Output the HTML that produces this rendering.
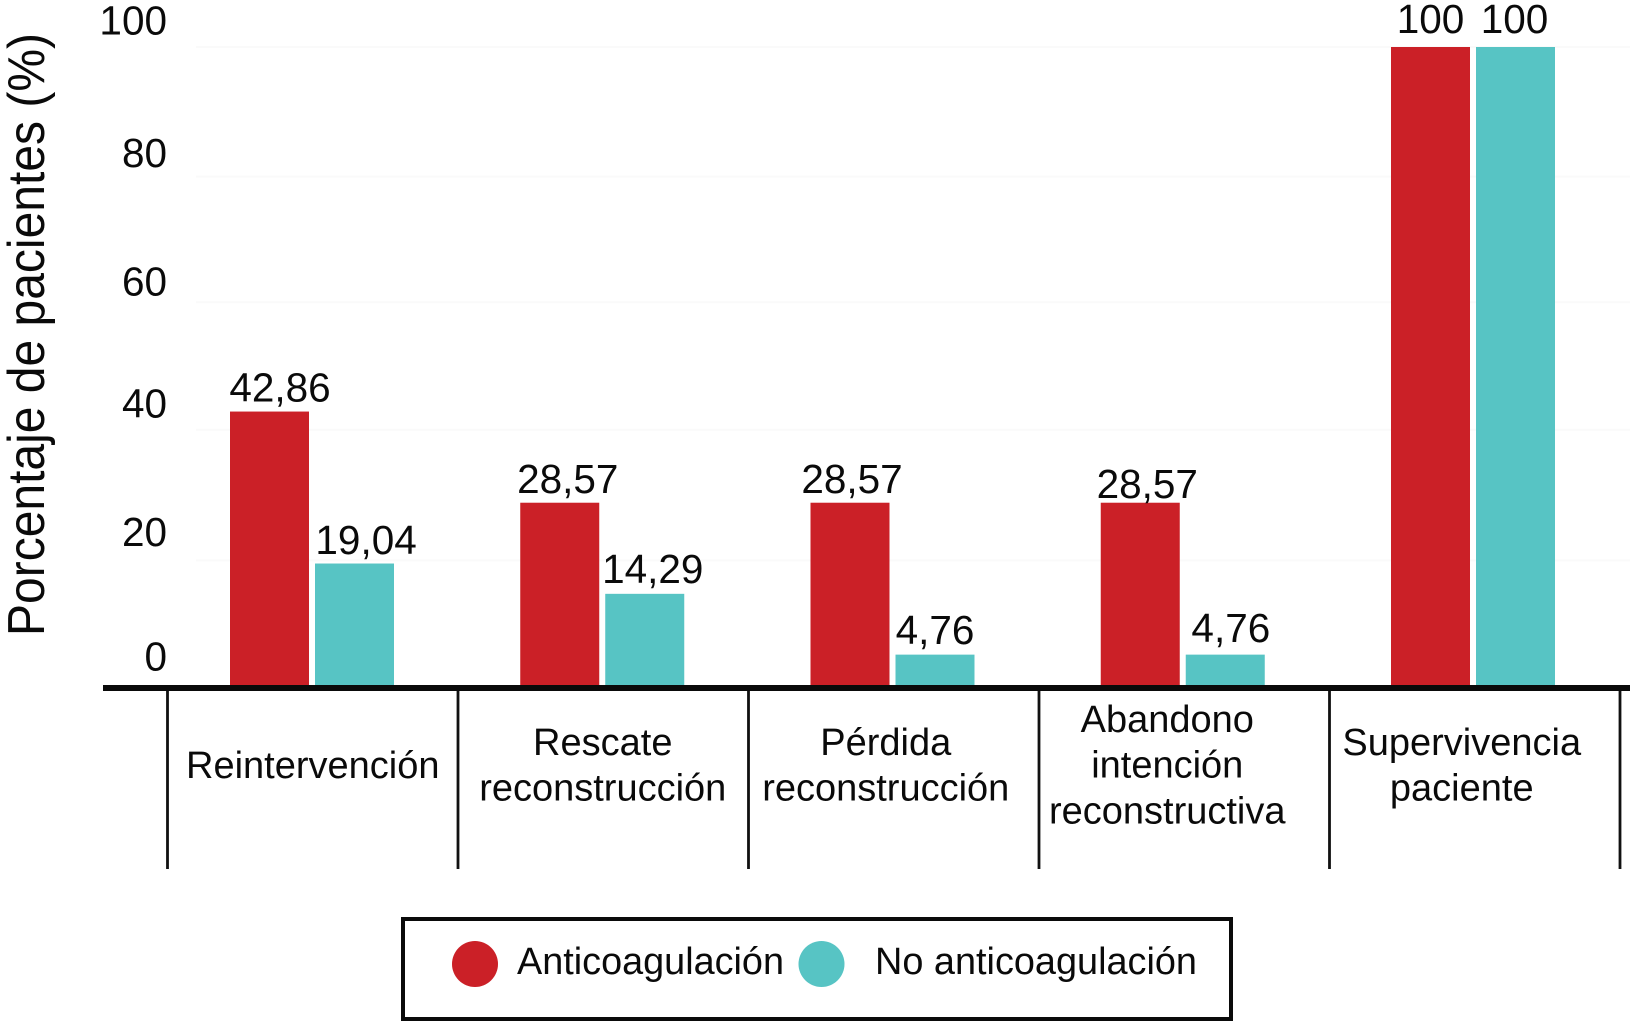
<!DOCTYPE html>
<html lang="es">
<head>
<meta charset="utf-8">
<title>Porcentaje de pacientes</title>
<style>
html,body{margin:0;padding:0;background:#fff;width:1630px;height:1021px;overflow:hidden}
svg{display:block;font-family:"Liberation Sans",Arial,sans-serif;fill:#000}
text{fill:#0a0a0a}
</style>
</head>
<body>
<svg id="chart" xmlns="http://www.w3.org/2000/svg" width="1630" height="1021" viewBox="0 0 1630 1021">
  <rect x="0" y="0" width="1630" height="1021" fill="#ffffff"/>
  <g id="grid"></g>
  <g id="bars"></g>
  <g id="values"></g>
  <g id="yaxis"></g>
  <g id="xaxis"></g>
  <text transform="translate(44,636) rotate(-90)" font-size="52" textLength="603" lengthAdjust="spacingAndGlyphs">Porcentaje de pacientes (%)</text>
  <g>
    <rect x="403" y="919" width="828" height="100" fill="#ffffff" stroke="#0a0a0a" stroke-width="4"/>
    <ellipse cx="475" cy="964" rx="23" ry="23" style="fill:#cb2027"/>
    <text x="517" y="974" font-size="38" textLength="267" lengthAdjust="spacingAndGlyphs">Anticoagulación</text>
    <ellipse cx="821.5" cy="964" rx="23" ry="23" style="fill:#57c4c4"/>
    <text x="875" y="974" font-size="38" textLength="322" lengthAdjust="spacingAndGlyphs">No anticoagulación</text>
  </g>
</svg>
<script>
// ---- data ----
const categories = [
  ['Reintervención'],
  ['Rescate', 'reconstrucción'],
  ['Pérdida', 'reconstrucción'],
  ['Abandono', 'intención', 'reconstructiva'],
  ['Supervivencia', 'paciente']
];
const anticoagulacion = [42.86, 28.57, 28.57, 28.57, 100];
const noAnticoagulacion = [19.04, 14.29, 4.76, 4.76, 100];
const yTicks = [0, 20, 40, 60, 80, 100];

// ---- axis functions ----
const y0 = 685, pxPerUnit = 6.38;
function y(v) { return y0 - v * pxPerUnit; }
const groupStart = 230, groupStep = 290.25, barW = 79, barGap = 6;
function xBar(i, s) { return groupStart + groupStep * i + s * (barW + barGap); }
const dividerStart = 167.5, dividerStep = 290.5;
function xDivider(i) { return dividerStart + dividerStep * i; }
function fmt(v) { return String(v).replace('.', ','); }

// ---- hand-placement offsets of the original artwork (px, not data) ----
function valueNudge(s, i) {
  const dx = s === 0 ? [10.5, 8, 2, 7, 0] : [11.6, 8, 0, 5.6, -1];
  const dy = s === 0 ? [-10, -9.7, -9.7, -4.7, -14] : [-9.5, -11, -10.6, -12.6, -14];
  return { dx: dx[i], dy: dy[i] };
}
function tickNudge(t) {
  return { 0: -14.5, 20: -11.5, 40: -12.5, 60: -6.5, 80: -7.5, 100: -12.5 }[t];
}
function gridNudge(t) {
  return { 20: 3, 40: 0, 60: 0, 80: 2, 100: 0 }[t];
}
function categoryNudge(i) { return [0, -0.5, -8, -17, -13][i]; }
function categoryFirstBaseline(n) { return n === 1 ? 778 : n === 2 ? 755 : 732; }

const NS = 'http://www.w3.org/2000/svg';
function make(parent, tag, attrs, content) {
  const el = document.createElementNS(NS, tag);
  for (const k in attrs) el.setAttribute(k, attrs[k]);
  if (content !== undefined) el.textContent = content;
  parent.appendChild(el);
  return el;
}
const grid = document.getElementById('grid');
const bars = document.getElementById('bars');
const values = document.getElementById('values');
const yaxis = document.getElementById('yaxis');
const xaxis = document.getElementById('xaxis');

// gridlines + y tick labels
yTicks.forEach(function (t) {
  if (t > 0) {
    const gy = y(t) + gridNudge(t);
    const g = make(grid, 'line', { x1: 196, x2: 1630, y1: gy, y2: gy, stroke: '#fafafa', 'stroke-width': 2 });
    
    
  }
  const lab = make(yaxis, 'text', { x: 167, y: y(t) + tickNudge(t), 'text-anchor': 'end', 'font-size': 40.5 }, String(t));
  
  
});

// bars + value labels
[anticoagulacion, noAnticoagulacion].forEach(function (series, s) {
  series.forEach(function (v, i) {
    const r = make(bars, 'rect', { x: xBar(i, s), y: y(v), width: barW, height: y0 - y(v) });
    r.style.fill = s === 0 ? '#cb2027' : '#57c4c4';
    
    
    const n = valueNudge(s, i);
    const t = make(values, 'text', {
      x: xBar(i, s) + barW / 2 + n.dx, y: y(v) + n.dy,
      'text-anchor': 'middle', 'font-size': 40.5
    }, fmt(v));
    
    
  });
});

// x axis
const axisLine = make(xaxis, 'rect', { x: 103, y: 685, width: 1527, height: 6, fill: '#0a0a0a' });


for (let i = 0; i <= categories.length; i++) {
  const d = make(xaxis, 'line', { x1: xDivider(i), x2: xDivider(i), y1: 691, y2: 869, stroke: '#111', 'stroke-width': 2.8 });
  
  
}
categories.forEach(function (lines, i) {
  const cx = (xDivider(i) + xDivider(i + 1)) / 2 + categoryNudge(i);
  const t = make(xaxis, 'text', { 'text-anchor': 'middle', 'font-size': 38 });
  
  
  lines.forEach(function (line, j) {
    make(t, 'tspan', { x: cx, y: categoryFirstBaseline(lines.length) + j * 45.7 }, line);
  });
});
</script>
</body>
</html>
